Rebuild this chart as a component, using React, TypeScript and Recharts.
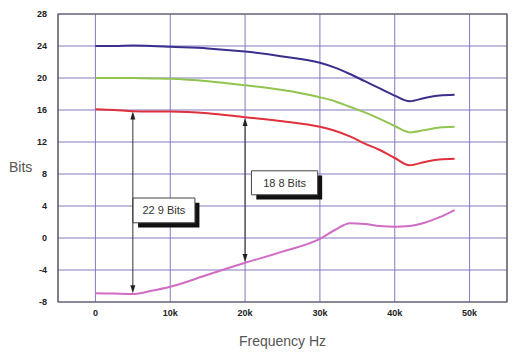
import {
  CartesianGrid,
  Line,
  LineChart,
  ReferenceArea,
  ReferenceLine,
  XAxis,
  YAxis,
} from 'recharts';

const freqs = [
  0, 2500, 5000, 7500, 10000, 15000, 20000, 25000, 30000, 32000, 34000, 36000,
  38000, 40000, 42000, 44000, 46000, 48000,
];
const blueBits = [
  24.0, 24.0, 24.05, 24.0, 23.9, 23.7, 23.3, 22.7, 21.9, 21.3, 20.5, 19.6, 18.7,
  17.8, 17.1, 17.5, 17.8, 17.9,
];
const greenBits = [
  20.0, 20.0, 20.0, 19.95, 19.9, 19.6, 19.1, 18.5, 17.6, 17.1, 16.4, 15.7, 14.9,
  14.0, 13.2, 13.5, 13.8, 13.9,
];
const redBits = [
  16.1, 16.0, 15.85, 15.8, 15.8, 15.6, 15.1, 14.6, 13.9, 13.4, 12.7, 11.8, 11.0,
  10.0, 9.1, 9.5, 9.8, 9.9,
];
const magentaBits = [
  -6.9, -6.95, -7.0, -6.6, -6.1, -4.6, -3.1, -1.7, -0.1, 1.0, 1.85, 1.75, 1.5,
  1.4, 1.5, 1.9, 2.6, 3.5,
];

const xTicks = [0, 10000, 20000, 30000, 40000, 50000];
const xTickLabels = ['0', '10k', '20k', '30k', '40k', '50k'];
const yTicks = [-8, -4, 0, 4, 8, 12, 16, 20, 24, 28];

// dynamic-range spans marked on the chart: [freq, top, bottom]
const spanA = [5000, 15.8, -6.9];
const spanB = [20000, 15.0, -3.0];

const data = freqs.map((f, i) => ({
  f,
  blue: blueBits[i],
  green: greenBits[i],
  red: redBits[i],
  magenta: magentaBits[i],
}));

const tickStyle = {
  fontSize: 9,
  fontWeight: 700,
  fill: '#222',
  fontFamily: 'Liberation Sans, Arial, sans-serif',
};

const Arrow = (props: any) => {
  const { x1, y1, x2, y2 } = props;
  const x = x1;
  const top = Math.min(y1, y2);
  const bot = Math.max(y1, y2);
  return (
    <g>
      <line x1={x} y1={top + 4} x2={x} y2={bot - 4} stroke="#333" strokeWidth={1} />
      <path d={`M${x},${top} L${x - 2.5},${top + 8} L${x + 2.5},${top + 8} Z`} fill="#222" />
      <path d={`M${x},${bot} L${x - 2.5},${bot - 8} L${x + 2.5},${bot - 8} Z`} fill="#222" />
    </g>
  );
};

const boxLabel = (value: string) => ({
  value,
  position: 'center' as const,
  fill: '#333',
  fontSize: 11,
  fontFamily: 'Liberation Sans, Arial, sans-serif',
});

export default function App() {
  return (
    <div style={{ position: 'absolute', left: 0, top: 0, background: '#fff' }}>
      <LineChart
        width={516}
        height={352}
        data={data}
        margin={{ top: 14, right: 9, bottom: 0, left: 0 }}
      >
        <CartesianGrid stroke="#8279c0" strokeWidth={1} />
        <XAxis
          dataKey="f"
          type="number"
          domain={[-5000, 55000]}
          ticks={xTicks}
          tickFormatter={(v: number) => xTickLabels[xTicks.indexOf(v)]}
          tick={tickStyle}
          tickLine={false}
          tickSize={0}
          tickMargin={8}
          axisLine={false}
          height={50}
          label={{
            value: 'Frequency Hz',
            position: 'insideBottom',
            offset: 6,
            fill: '#555',
            fontSize: 14,
            fontFamily: 'Liberation Sans, Arial, sans-serif',
          }}
        />
        <YAxis
          type="number"
          domain={[-8, 28]}
          ticks={yTicks}
          tick={tickStyle}
          tickLine={false}
          tickSize={0}
          tickMargin={11}
          axisLine={false}
          width={58}
          label={{
            value: 'Bits',
            position: 'insideLeft',
            offset: 9,
            dy: 9,
            fill: '#555',
            fontSize: 14,
            fontFamily: 'Liberation Sans, Arial, sans-serif',
          }}
        />
        <ReferenceArea
          x1={-5000}
          x2={55000}
          y1={-8}
          y2={28}
          fill="none"
          stroke="#555"
          strokeWidth={1.2}
          ifOverflow="visible"
        />
        <Line dataKey="blue" stroke="#3a2f8c" strokeWidth={2} dot={false} type="monotone" isAnimationActive={false} />
        <Line dataKey="green" stroke="#92c450" strokeWidth={2} dot={false} type="monotone" isAnimationActive={false} />
        <Line dataKey="red" stroke="#e0303c" strokeWidth={2} dot={false} type="monotone" isAnimationActive={false} />
        <Line dataKey="magenta" stroke="#d06cc4" strokeWidth={2} dot={false} type="monotone" isAnimationActive={false} />
        <ReferenceLine
          segment={[
            { x: spanA[0], y: spanA[1] },
            { x: spanA[0], y: spanA[2] },
          ]}
          shape={Arrow}
        />
        <ReferenceLine
          segment={[
            { x: spanB[0], y: spanB[1] },
            { x: spanB[0], y: spanB[2] },
          ]}
          shape={Arrow}
        />
        <ReferenceArea x1={5700} x2={13900} y1={1.3} y2={4.4} fill="#111" fillOpacity={1} stroke="none" />
        <ReferenceArea
          x1={5000}
          x2={13300}
          y1={1.9}
          y2={5.0}
          fill="#fff"
          fillOpacity={1}
          stroke="#444"
          label={boxLabel('22 9 Bits')}
        />
        <ReferenceArea x1={21500} x2={30300} y1={4.8} y2={7.8} fill="#111" fillOpacity={1} stroke="none" />
        <ReferenceArea
          x1={20850}
          x2={29700}
          y1={5.4}
          y2={8.4}
          fill="#fff"
          fillOpacity={1}
          stroke="#444"
          label={boxLabel('18 8 Bits')}
        />
      </LineChart>
    </div>
  );
}
